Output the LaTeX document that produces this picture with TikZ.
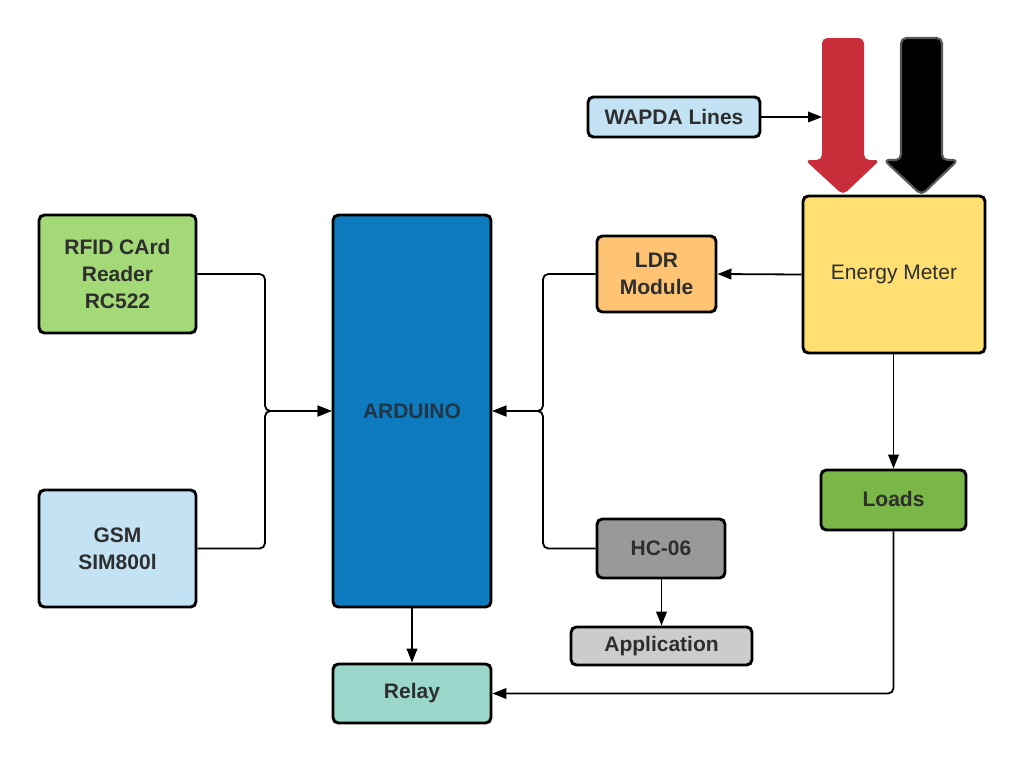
\documentclass[tikz,border=0pt]{standalone}
\usepackage{fontspec}
\setmainfont{Liberation Sans}
\usetikzlibrary{arrows.meta}
\definecolor{cGreen}{HTML}{A3D977}
\definecolor{cLBlue}{HTML}{C3E3F5}
\definecolor{cBlue}{HTML}{0D7BBD}
\definecolor{cOrange}{HTML}{FFC374}
\definecolor{cYellow}{HTML}{FFDF71}
\definecolor{cLoads}{HTML}{7AB648}
\definecolor{cGray}{HTML}{999999}
\definecolor{cLGray}{HTML}{CCCCCC}
\definecolor{cTeal}{HTML}{9AD6CA}
\definecolor{cRed}{HTML}{C92D39}
\definecolor{cText}{HTML}{2E2E2E}
\definecolor{cNavy}{HTML}{233445}
\begin{document}
\begin{tikzpicture}[x=0.75pt,y=-0.75pt,
  box/.style={draw=black, line width=2.2pt, rounded corners=4pt, inner sep=0pt,
    align=center, text=cText,
    font=\bfseries\fontsize{15.75}{20.25}\selectfont},
  conn/.style={draw=black, line width=1.35pt, rounded corners=4pt},
  arr/.style={conn, -{Triangle[length=10.5pt,width=8pt]}}]
\useasboundingbox (0,0) rectangle (1024,764);
\fill[white] (0,0) rectangle (1024,764);

% nodes
\node[box, fill=cLBlue, minimum width=129pt, minimum height=30pt] (wapda) at (674,117) {WAPDA Lines};
\node[box, fill=cGreen, minimum width=117.75pt, minimum height=88.5pt] (rfid) at (117.5,274) {RFID CArd\\Reader\\RC522};
\node[box, fill=cLBlue, minimum width=117.75pt, minimum height=87.75pt] (gsm) at (117.5,548.5) {GSM\\SIM800l};
\node[box, fill=cBlue, text=cNavy, minimum width=118.5pt, minimum height=294pt] (arduino) at (412,411) {ARDUINO};
\node[box, fill=cOrange, minimum width=89.25pt, minimum height=57pt] (ldr) at (656.5,274) {LDR\\Module};
\node[box, fill=cYellow, minimum width=136.5pt, minimum height=117.75pt,
  font=\fontsize{15.75}{20.25}\selectfont] (energy) at (894,274.5) {Energy Meter};
\node[box, fill=cLoads, minimum width=108.75pt, minimum height=45pt] (loads) at (893.5,500) {\raisebox{2pt}{Loads}};
\node[box, fill=cGray, minimum width=96pt, minimum height=44.25pt] (hc) at (661,548.5) {HC-06};
\node[box, fill=cLGray, minimum width=135.75pt, minimum height=28.5pt] (app) at (661.5,646) {\raisebox{-2pt}{Application}};
\node[box, fill=cTeal, minimum width=118.5pt, minimum height=44.25pt] (relay) at (412,693.5) {Relay};

% big arrows
\fill[cRed, rounded corners=4pt] (822,38) -- (864,38) -- (864,160) -- (880,160)
  -- (843,195) -- (805,160) -- (822,160) -- cycle;
\draw[fill=black, draw=black!65, line width=1.6pt, rounded corners=4pt]
  (901,38) -- (942,38) -- (942,160) -- (958,160) -- (921.5,195) -- (884,160) -- (901,160) -- cycle;
\coordinate (redin) at (822,117);

% junction coordinates
\coordinate (jl) at (265,411);
\coordinate (jr) at (543,411);
\coordinate (lr) at (893.5,693.5);

% connectors
\draw[arr] (wapda.east) -- (redin);
\draw[arr] (rfid.east) -| (jl) -- (arduino.west);
\draw[arr] (gsm.east) -| (jl) -- (arduino.west);
\draw[arr] (ldr.west) -| (jr) -- (arduino.east);
\draw[arr] (hc.west) -| (jr) -- (arduino.east);
\draw[arr] (energy.west) -- (ldr.east);
\draw[arr] (energy.south -| loads.north) -- (loads.north);
\draw[arr] (arduino.south) -- (relay.north);
\draw[arr] (hc.south -| app.north) -- (app.north);
\draw[arr] (loads.south) -- (lr) -- (relay.east);
\end{tikzpicture}
\end{document}
